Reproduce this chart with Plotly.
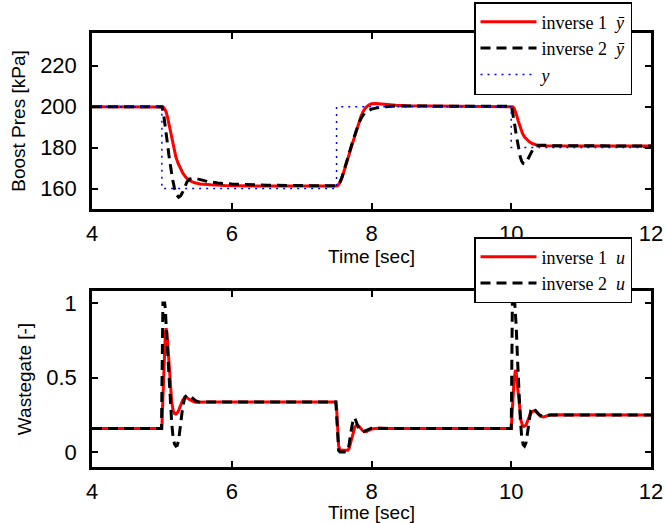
import plotly.graph_objects as go

# ---------------- data ----------------
# Top panel: boost pressure [kPa]
t_ref = [4, 5.0, 5.0, 7.5, 7.5, 10.0, 10.0, 12]
p_ref = [200, 200, 160, 160, 200, 200, 180, 180]

t_p1 = [4, 5.0, 5.02, 5.04, 5.06, 5.08, 5.1, 5.12, 5.14, 5.16, 5.18, 5.2, 5.23, 5.26, 5.3,
        5.35, 5.4, 5.47, 5.55, 5.7, 5.9, 6.5, 7.5,
        7.52, 7.55, 7.58, 7.61, 7.64, 7.67, 7.7, 7.73, 7.76, 7.79, 7.82, 7.85, 7.88, 7.92,
        7.96, 8.0, 8.06, 8.12, 8.2, 8.35, 8.5, 9.0, 10.0,
        10.02, 10.04, 10.06, 10.08, 10.1, 10.12, 10.14, 10.16, 10.19, 10.22, 10.26, 10.3,
        10.35, 10.42, 10.5, 11, 12]
p_inv1 = [200, 200, 199.8, 199, 197.5, 195, 191.5, 188, 184.5, 181, 178, 175.5, 172.5, 170, 167.5,
          165.2, 163.8, 162.8, 162.2, 161.8, 161.5, 161.2, 161.2,
          161.6, 163, 165.5, 168.5, 172, 175.5, 179, 182.5, 186, 189.3, 192.5, 195.3, 197.7, 199.6,
          200.8, 201.4, 201.6, 201.4, 201.1, 200.7, 200.5, 200.3, 200.2,
          200, 199.3, 197.8, 195.5, 193, 190.7, 188.6, 187, 185.2, 184, 182.8, 182,
          181.4, 181, 180.9, 180.8, 180.8]

t_p2 = [4, 5.0, 5.02, 5.04, 5.06, 5.08, 5.1, 5.12, 5.15, 5.18, 5.21, 5.24, 5.27, 5.3, 5.33,
        5.36, 5.4, 5.45, 5.5, 5.57, 5.65, 5.8, 6.0, 6.5, 7.5,
        7.52, 7.55, 7.58, 7.61, 7.64, 7.67, 7.7, 7.73, 7.76, 7.79, 7.82, 7.85, 7.88, 7.92,
        7.96, 8.0, 8.06, 8.12, 8.2, 8.35, 8.5, 10.0,
        10.01, 10.03, 10.05, 10.07, 10.09, 10.11, 10.13, 10.15, 10.17, 10.19, 10.21, 10.23,
        10.26, 10.29, 10.32, 10.36, 10.42, 10.5, 10.6, 12]
p_inv2 = [200, 200, 197.5, 193, 187.5, 182, 176.5, 171.5, 165, 160.2, 157, 155.8, 156.5, 158.5, 161.2,
          163.3, 164.7, 165, 164.8, 164.2, 163.5, 162.7, 162.2, 161.6, 161.3,
          161.8, 163.2, 165.8, 169, 172.5, 176, 179.5, 183, 186.3, 189.3, 192, 194.2, 195.9, 197.4,
          198.2, 198.8, 199.3, 199.7, 200, 200.3, 200.3, 200.2,
          199, 195.5, 191, 186.5, 182, 178.2, 175.3, 173.3, 172.3, 172.1, 172.6, 173.8,
          176, 178.2, 179.8, 180.8, 181.2, 181.1, 180.9, 180.8]

# Bottom panel: wastegate [-]
t_u1 = [4, 5.0, 5.01, 5.02, 5.03, 5.04, 5.05, 5.06, 5.07, 5.08, 5.1, 5.12, 5.14, 5.16, 5.18,
        5.2, 5.22, 5.24, 5.27, 5.3, 5.33, 5.36, 5.39, 5.43, 5.48, 5.55, 5.65, 6.0, 7.49,
        7.5, 7.51, 7.52, 7.53, 7.55, 7.58, 7.66, 7.68, 7.7, 7.72, 7.74, 7.76, 7.78, 7.8, 7.82,
        7.84, 7.87, 7.9, 7.93, 7.97, 8.02, 8.1, 8.3, 10.0,
        10.01, 10.02, 10.03, 10.04, 10.05, 10.06, 10.07, 10.08, 10.1, 10.12, 10.14, 10.16,
        10.18, 10.21, 10.24, 10.27, 10.3, 10.33, 10.36, 10.39, 10.42, 10.46, 10.5, 10.55, 10.65, 12]
u_inv1 = [0.158, 0.158, 0.3, 0.47, 0.62, 0.73, 0.8, 0.83, 0.81, 0.75, 0.6, 0.45, 0.34, 0.28, 0.26,
          0.255, 0.262, 0.28, 0.32, 0.35, 0.365, 0.365, 0.355, 0.343, 0.334, 0.333, 0.336, 0.335, 0.335,
          0.3, 0.2, 0.1, 0.04, 0.015, 0.012, 0.012, 0.025, 0.06, 0.1, 0.14, 0.165, 0.178, 0.18, 0.174,
          0.162, 0.145, 0.136, 0.138, 0.148, 0.157, 0.16, 0.158, 0.158,
          0.22, 0.31, 0.4, 0.48, 0.53, 0.55, 0.535, 0.49, 0.38, 0.28, 0.21, 0.18,
          0.172, 0.18, 0.215, 0.252, 0.272, 0.277, 0.268, 0.253, 0.24, 0.236, 0.243, 0.249, 0.25, 0.248]

t_u2 = [4, 4.995, 5.0, 5.005, 5.01, 5.015, 5.04, 5.05, 5.06, 5.08, 5.1, 5.12, 5.14, 5.16, 5.18,
        5.2, 5.22, 5.24, 5.26, 5.28, 5.3, 5.33, 5.37, 5.42, 5.48, 5.55, 5.65, 7.49,
        7.5, 7.51, 7.52, 7.53, 7.55, 7.64, 7.66, 7.68, 7.7, 7.72, 7.74, 7.76, 7.78, 7.8,
        7.83, 7.86, 7.9, 7.95, 8.0, 8.1, 8.3, 10.0,
        10.003, 10.007, 10.012, 10.016, 10.05, 10.06, 10.07, 10.09, 10.11, 10.13, 10.15, 10.17,
        10.19, 10.21, 10.23, 10.25, 10.28, 10.31, 10.35, 10.4, 10.45, 10.55, 12]
u_inv2 = [0.158, 0.158, 0.4, 0.7, 0.95, 1.0, 1.0, 0.96, 0.86, 0.68, 0.5, 0.33, 0.2, 0.1, 0.055,
          0.04, 0.045, 0.08, 0.15, 0.24, 0.31, 0.37, 0.385, 0.37, 0.345, 0.332, 0.335, 0.335,
          0.26, 0.14, 0.05, 0.01, 0.0, 0.0, 0.01, 0.05, 0.12, 0.19, 0.225, 0.23, 0.21, 0.18,
          0.148, 0.135, 0.14, 0.152, 0.16, 0.16, 0.158, 0.158,
          0.4, 0.7, 0.95, 1.0, 1.0, 0.95, 0.85, 0.62, 0.4, 0.22, 0.1, 0.05,
          0.04, 0.06, 0.12, 0.2, 0.28, 0.3, 0.28, 0.25, 0.24, 0.248, 0.248]

x_ticks = [4, 6, 8, 10, 12]
p_ticks = [160, 180, 200, 220]
u_ticks = [0, 0.5, 1]
u_tick_text = ["0", "0.5", "1"]

# ---------------- figure ----------------
W, H = 665, 523
RED = "rgb(255,0,0)"
BLACK = "black"
BLUE = "rgb(0,0,255)"

fig = go.Figure()
fig.add_trace(go.Scatter(x=t_p1, y=p_inv1, mode="lines", name="inverse 1  <i>ȳ</i>",
                         line=dict(color=RED, width=3),
                         xaxis="x", yaxis="y", legend="legend"))
fig.add_trace(go.Scatter(x=t_p2, y=p_inv2, mode="lines", name="inverse 2  <i>ȳ</i>",
                         line=dict(color=BLACK, width=3, dash="10px,6px"),
                         xaxis="x", yaxis="y", legend="legend"))
fig.add_trace(go.Scatter(x=t_ref, y=p_ref, mode="lines", name="<i>y</i>",
                         line=dict(color=BLUE, width=1.5, dash="2px,5px"),
                         xaxis="x", yaxis="y", legend="legend"))
fig.add_trace(go.Scatter(x=t_u1, y=u_inv1, mode="lines", name="inverse 1  <i>u</i>",
                         line=dict(color=RED, width=3),
                         xaxis="x2", yaxis="y2", legend="legend2"))
fig.add_trace(go.Scatter(x=t_u2, y=u_inv2, mode="lines", name="inverse 2  <i>u</i>",
                         line=dict(color=BLACK, width=3, dash="10px,6px"),
                         xaxis="x2", yaxis="y2", legend="legend2"))

tickfont = dict(family="Liberation Sans, Arial, sans-serif", size=22, color="black")
titlefont = dict(family="Liberation Sans, Arial, sans-serif", size=19, color="black")
axis_common = dict(showline=True, linecolor="black", linewidth=2.5, mirror="ticks",
                   ticks="inside", ticklen=6, tickwidth=1.5, tickcolor="black",
                   showgrid=False, zeroline=False, tickfont=tickfont)

xdom = [92 / W, 651 / W]
ydom1 = [(H - 209) / H, (H - 33) / H]
ydom2 = [(H - 467) / H, (H - 291) / H]

legfont = dict(family="Liberation Serif, DejaVu Serif, serif", size=18, color="black")

fig.update_layout(
    width=W, height=H,
    margin=dict(l=0, r=0, t=0, b=0, autoexpand=False),
    paper_bgcolor="white", plot_bgcolor="white",
    xaxis=dict(domain=xdom, range=[4, 12], tickvals=x_ticks, anchor="y", ticklabelstandoff=3,
               title=dict(text="Time [sec]", font=titlefont, standoff=0), **axis_common),
    yaxis=dict(domain=ydom1, range=[150, 236], tickvals=p_ticks, anchor="x", ticklabelstandoff=8,
               title=dict(text="Boost Pres [kPa]", font=titlefont, standoff=10), **axis_common),
    xaxis2=dict(domain=xdom, range=[4, 12], tickvals=x_ticks, anchor="y2", ticklabelstandoff=3,
                title=dict(text="Time [sec]", font=titlefont, standoff=0), **axis_common),
    yaxis2=dict(domain=ydom2, range=[-0.1, 1.08], tickvals=u_ticks, ticktext=u_tick_text, anchor="x2",
                ticklabelstandoff=8,
                title=dict(text="Wastegate [-]", font=titlefont, standoff=10), **axis_common),
    legend=dict(x=474 / W, y=1 - 2 / H, xanchor="left", yanchor="top",
                bgcolor="white", bordercolor="black", borderwidth=1.5,
                font=legfont, tracegroupgap=0, itemwidth=56,
                entrywidth=200, entrywidthmode="pixels"),
    legend2=dict(x=474 / W, y=1 - 303 / H, xanchor="left", yanchor="bottom",
                 bgcolor="white", bordercolor="black", borderwidth=1.5,
                 font=legfont, tracegroupgap=0, itemwidth=56,
                 entrywidth=200, entrywidthmode="pixels"),
    showlegend=True,
)

fig.write_html("out.html")
